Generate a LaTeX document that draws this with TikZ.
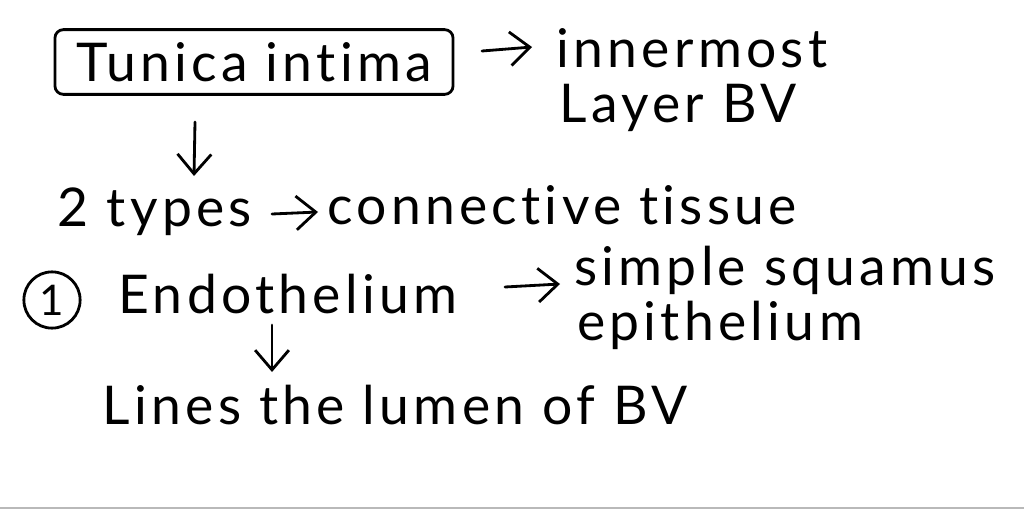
\documentclass[tikz,border=0pt]{standalone}
\usepackage{fontspec}
\setmainfont{Lato}[LetterSpace=8,Ligatures=NoCommon]
\usetikzlibrary{arrows.meta,positioning}

\begin{document}
\begin{tikzpicture}[x=0.025cm,y=-0.025cm,
  txt/.style={inner sep=0pt,font=\fontsize{38}{40}\selectfont},
  arr/.style={-{Straight Barb[length=14pt,width=24pt]},line width=2pt,line cap=round}]
\useasboundingbox (0,0) rectangle (1024,512);
\draw[gray!55,line width=1.2pt] (0,508) -- (1024,508);
% top line
\node[txt,draw,line width=2pt,rounded corners=6pt,inner xsep=15pt,inner ysep=9pt] (ti) at (254,62) {Tunica intima};
\node[txt] (inn) at (692,48) {innermost};
\node[txt] (lay) at (678,108) {Layer BV};
\coordinate (a1) at (482,51);
\coordinate (a2) at (532,47);
\draw[arr] (a1) -- (a2);
% second line
\node[txt] (two) at (155,212) {2 types};
\node[txt] (con) at (562,205) {connective tissue};
\coordinate (d1) at (195,122);
\coordinate (d2) at (194,176);
\draw[arr] (d1) -- (d2);
\coordinate (b1) at (272,214);
\coordinate (b2) at (318,212);
\draw[arr] (b1) -- (b2);
% third line
\node[draw,circle,line width=2pt,minimum size=40pt,inner sep=0pt,font=\fontsize{30}{32}\selectfont] (one) at (52,300) {1};
\node[txt] (endo) at (288,294) {Endothelium};
\node[txt] (sim) at (785,270) {simple squamus};
\node[txt] (epi) at (720,325) {epithelium};
\coordinate (c1) at (505,287);
\coordinate (c2) at (560,284);
\draw[arr] (c1) -- (c2);
\coordinate (e1) at (272,325);
\coordinate (e2) at (272,372);
\draw[arr] (e1) -- (e2);
% last line
\node[txt] (lin) at (395,405) {Lines the lumen of BV};
\end{tikzpicture}
\end{document}
